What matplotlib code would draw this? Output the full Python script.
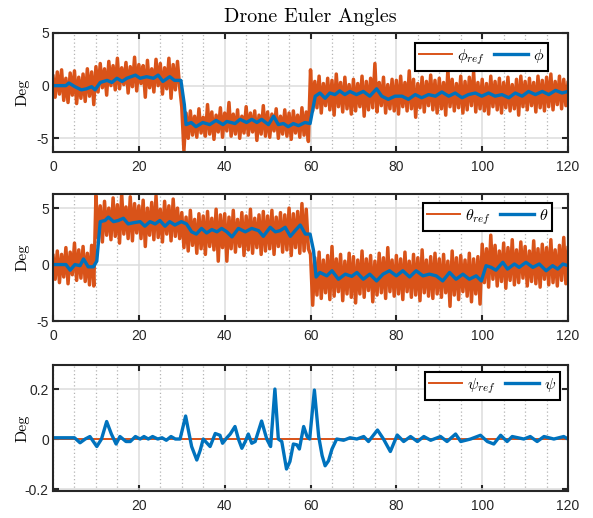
import matplotlib.pyplot as plt
import numpy as np
from matplotlib.ticker import MultipleLocator, FuncFormatter

plt.rcParams['mathtext.fontset'] = 'cm'
plt.rcParams['axes.unicode_minus'] = False
plt.rcParams['font.family'] = 'Liberation Sans'

# reference (noisy) signals, sampled every 0.5 s from 0 to 120 s
t_ref = np.linspace(0, 120, 241)

phi_ref = [0.9, -1.1, 1.3, -0.8, 1.5, -1.4, 0.7, -1.6, 1.2, -0.9,
           1.4, -1.7, 0.8, -1.2, 1.1, -1.5, 1.6, -1.0, 1.3, -1.8,
           1.8, -0.6, 2.1, -0.2, 1.6, -0.9, 2.3, 0.0, 1.9, -0.4,
           2.6, -0.3, 1.7, 0.1, 2.2, -0.7, 1.8, -0.1, 2.7, -0.5,
           2.0, 0.2, 1.9, -1.1, 2.4, -0.2, 1.6, -0.6, 2.5, 0.0,
           2.1, -0.8, 1.7, -0.3, 2.6, -1.2, 2.0, -0.4, 2.3, -0.1,
           -2.0, -6.2, -2.6, -5.0, -2.4, -4.7, -2.9, -4.9, -2.2, -4.5,
           -3.0, -4.8, -1.8, -4.6, -2.5, -5.1, -2.8, -4.4, -2.1, -4.9,
           -2.6, -4.3, -1.6, -4.8, -2.7, -4.6, -2.3, -5.0, -2.9, -4.5,
           -2.0, -4.7, -2.6, -4.4, -2.4, -5.2, -2.8, -4.6, -1.9, -4.8,
           -2.5, -4.9, -2.7, -4.3, -2.2, -5.0, -2.9, -4.6, -2.3, -4.8,
           -2.6, -5.1, -2.4, -4.5, -2.8, -4.9, -2.1, -4.7, -2.5, -5.3,
           1.5, -2.4, 0.4, -2.1, 0.9, -2.6, 0.2, -1.9, 0.7, -2.3,
           0.5, -2.8, 1.1, -2.0, 0.3, -2.5, 0.8, -2.2, 0.1, -2.7,
           0.6, -2.4, 0.2, -2.0, 0.9, -2.9, 0.4, -2.3, 0.7, -2.1,
           2.1, -2.5, 0.3, -1.9, 0.8, -2.6, 0.1, -2.2, 0.6, -2.4,
           0.5, -2.7, 0.9, -2.0, 0.3, -2.4, 1.4, -2.2, 0.6, -3.0,
           0.2, -2.1, 0.8, -2.5, 0.4, -1.9, 1.0, -2.3, 0.5, -2.6,
           0.7, -2.2, 0.3, -2.8, 1.5, -2.0, 0.6, -2.4, 0.2, -2.1,
           0.9, -2.6, 0.4, -2.3, 0.8, -1.9, 1.3, -2.5, 0.3, -2.2,
           0.6, -2.4, 0.2, -2.7, 0.9, -2.0, 0.4, -2.3, 0.7, -2.6,
           0.3, -2.1, 0.8, -2.4, 0.1, -2.2, 0.6, -2.8, 0.9, -2.0,
           0.4, -2.3, 0.7, -1.9, 0.3, -2.5, 0.9, -2.1, 0.5, -2.4,
           0.8, -2.0, 1.1, -2.3, 0.4, -1.8, 0.9, -2.2, 0.6, -1.9,
           0.3]

theta_ref = [0.8, -1.3, 1.2, -1.6, 0.9, -1.1, 1.5, -1.7, 1.1, -0.9,
             1.9, -1.4, 1.3, -1.2, 1.6, -1.5, 1.0, -1.8, 1.7, -1.9,
             6.1, 2.4, 5.2, 2.0, 5.6, 2.6, 5.0, 2.2, 5.9, 2.5,
             5.3, 1.9, 6.3, 2.7, 5.1, 2.3, 6.0, 2.1, 5.4, 2.8,
             5.2, 2.3, 5.7, 1.6, 5.0, 2.6, 5.5, 2.2, 6.1, 2.4,
             4.9, 2.0, 5.6, 2.7, 5.2, 2.1, 5.8, 2.5, 5.0, 2.3,
             4.6, 1.5, 4.2, 1.2, 4.8, 1.7, 4.0, 1.0, 4.5, 1.4,
             4.3, 0.9, 4.7, 1.6, 4.1, 1.3, 4.9, 0.3, 4.4, 1.5,
             4.5, 0.3, 4.2, 1.4, 4.8, 1.1, 4.0, 1.6, 4.6, 0.8,
             4.3, 1.3, 4.9, 1.0, 4.1, 1.5, 4.4, 0.9, 4.7, 1.2,
             4.3, 1.4, 4.8, 0.9, 4.2, 1.6, 4.6, 1.1, 4.4, 1.3,
             5.0, 0.8, 4.5, 1.5, 4.7, 1.0, 5.4, 1.2, 4.9, 1.4,
             0.9, -3.6, 0.6, -2.7, 1.1, -3.0, 0.4, -2.5, 0.8, -3.1,
             1.6, -2.8, 0.5, -2.4, 0.9, -3.2, 0.3, -2.6, 1.0, -2.9,
             0.7, -3.4, 0.4, -2.6, 1.2, -2.9, 0.5, -2.3, 0.8, -3.3,
             0.3, -2.7, 1.0, -2.5, 0.6, -3.0, 1.5, -2.4, 0.4, -2.8,
             0.8, -2.6, 0.5, -3.1, 1.1, -2.4, 0.3, -2.9, 0.9, -2.7,
             0.6, -3.2, 1.3, -2.5, 0.4, -2.8, 0.7, -3.0, 1.0, -2.6,
             0.5, -2.9, 0.9, -2.5, 0.3, -3.7, 1.2, -2.7, 0.6, -3.1,
             0.8, -2.4, 0.4, -2.8, 1.0, -3.3, 0.5, -2.6, 0.7, -3.5,
             1.8, -1.6, 1.4, -2.0, 2.6, -1.3, 1.7, -1.9, 1.2, -1.5,
             1.9, -2.1, 1.5, -1.4, 2.2, -1.8, 1.3, -1.6, 2.0, -1.2,
             1.6, -1.9, 1.2, -1.5, 2.1, -1.7, 1.4, -2.0, 1.8, -1.3,
             1.5, -1.8, 2.2, -1.6, 1.3, -1.9, 1.7, -1.4, 2.4, -1.7,
             1.5]

psi_ref_t = [0, 120]
psi_ref = [0.0, 0.0]

phi_t = [0, 3, 3.7, 5.1, 6.6, 7.8, 9, 9.8, 11, 12.6, 13.7, 14.9, 16.1, 17.2, 19.2,
         20.3, 21.8, 23.4, 24.5, 25.6, 27.2, 28.3, 29.8, 30.6, 31.0, 32.2, 33.3,
         34.9, 36.5, 38.0, 39.6, 40.5, 42.4, 43.6, 45.1, 46.3, 47.5, 48.6, 50.2,
         51.4, 52.5, 53.7, 54.8, 56.0, 57.2, 58.7, 59.9, 61.1, 62.2, 63.4, 64.5,
         65.7, 66.8, 68.0, 69.2, 70.7, 72.3, 73.8, 75.4, 76.6, 78.1, 79.7, 81.3,
         82.8, 84.4, 85.9, 87.5, 89.1, 90.6, 92.2, 93.7, 95.3, 96.8, 98.4, 99.9,
         101.5, 103.0, 104.6, 106.2, 107.7, 109.3, 110.8, 112.4, 114.0, 115.5,
         117.1, 118.6, 120.0]
phi = [0.0, 0.0, 0.25, -0.1, -0.4, -0.3, -0.1, -0.4, 0.3, 0.5, 0.3, 0.7, 0.4, 0.7, 1.0,
       0.7, 0.85, 0.7, 1.0, 0.4, 0.85, 0.5, 0.5, -1.8, -3.7, -3.5, -3.9,
       -3.5, -3.7, -3.3, -3.7, -3.4, -3.6, -3.2, -3.5, -3.2, -3.5, -3.2, -3.7,
       -2.9, -3.7, -3.6, -3.9, -3.6, -3.8, -3.5, -3.6, -1.0, -0.7, -1.2, -0.7,
       -0.85, -0.5, -0.85, -0.55, -0.85, -0.55, -1.0, -0.3, -1.0, -1.3, -1.0, -1.0,
       -1.3, -0.85, -1.15, -0.85, -1.0, -0.6, -1.0, -0.7, -1.15, -0.85, -0.7, -1.0,
       -0.7, -1.0, -0.85, -1.15, -0.7, -1.0, -0.55, -0.85, -0.55, -0.85,
       -0.45, -0.7, -0.55]

theta_t = [0, 3, 4.0, 5.1, 6.3, 7.1, 8.2, 9.4, 10.2, 11.0, 12.1, 12.9, 14.1, 15.2,
           16.4, 17.5, 18.7, 20.3, 21.4, 22.6, 23.8, 24.9, 26.1, 27.2, 28.4, 29.9,
           31.1, 32.3, 33.4, 34.6, 35.8, 37.0, 38.2, 39.3, 40.5, 41.7, 43.2, 44.8,
           46.3, 47.9, 49.0, 50.6, 51.8, 52.9, 54.1, 55.3, 56.4, 57.6, 58.8, 59.9,
           60.7, 61.3, 62.2, 63.8, 65.0, 66.5, 68.1, 69.6, 70.8, 72.3, 73.8, 75.4,
           76.9, 78.4, 80.0, 81.5, 83.1, 84.6, 86.2, 87.7, 89.3, 90.8, 92.4, 93.9,
           95.5, 97.0, 98.6, 99.8, 100.9, 102.1, 103.2, 104.8, 105.9, 107.5, 108.6,
           110.2, 111.8, 113.3, 114.9, 116.4, 117.6, 118.8, 120.0]
theta = [0.0, 0.0, -0.5, 0.0, -0.1, 0.5, -0.2, -0.2, 0.3, 3.8, 3.9, 4.2, 3.8, 3.9,
         4.1, 3.6, 3.7, 3.8, 3.4, 3.8, 3.6, 3.9, 3.4, 3.8, 3.5, 3.8,
         3.6, 2.9, 2.7, 3.2, 2.8, 3.1, 2.9, 3.2, 2.9, 2.45, 3.2, 2.9,
         3.2, 3.0, 2.5, 3.3, 2.9, 3.0, 3.3, 2.5, 3.0, 3.5, 2.7, 2.7,
         1.25, -1.1, -0.7, -1.0, -0.55, -1.3, -0.85, -1.05, -0.7, -1.3, -0.85, -1.45,
         -0.85, -0.55, -1.0, -0.55, -1.1, -0.55, -1.0, -0.85, -1.0, -1.45, -0.7, -1.3,
         -0.85, -1.3, -1.0, -1.45, -0.1, -0.25, -0.5, 0.2, -0.4, 0.05, -0.25,
         0.2, -0.25, 0.05, -0.55, -0.1, -0.4, 0.05, -0.1]

psi_t = [0, 5, 6.3, 7.5, 8.6, 10.2, 11.3, 12.5, 13.6, 14.7, 15.6, 17.0, 18.0, 19.2,
         20.3, 21.2, 22.2, 23.2, 24.4, 25.4, 26.4, 27.5, 28.5, 29.6, 30.9, 31.6,
         32.3, 33.5, 34.3, 35.0, 36.6, 37.8, 38.9, 39.5, 40.5, 41.3, 42.4, 43.2,
         44.0, 44.8, 45.5, 46.3, 47.1, 48.6, 49.8, 50.7, 51.7, 52.5, 53.3, 54.4,
         55.2, 56.0, 56.8, 57.4, 58.4, 59.2, 59.8, 60.9, 61.9, 62.7, 63.4, 64.2,
         65.0, 66.1, 67.7, 69.2, 70.8, 72.4, 73.5, 75.6, 77.0, 78.6, 80.2, 81.7,
         83.3, 84.9, 86.4, 88.0, 90.3, 91.8, 93.8, 95.0, 97.3, 99.6, 101.2, 102.7,
         104.3, 105.8, 107.0, 109.7, 111.2, 112.8, 114.4, 116.7, 119.0, 120.0]
psi = [0.005, 0.005, -0.015, 0.0, 0.01, -0.03, 0.0, 0.07, 0.02, -0.02, 0.01, -0.01, -0.01, 0.01,
       0.0, 0.01, 0.0, 0.01, 0.0, 0.005, -0.005, 0.01, 0.0, 0.0, 0.092, 0.03,
       -0.03, -0.084, -0.045, 0.0, -0.03, 0.022, 0.015, -0.017, 0.005, 0.02, 0.05, 0.0,
       -0.037, -0.01, 0.02, -0.017, -0.01, 0.072, 0.0, -0.03, 0.2, 0.0, -0.01, -0.12,
       -0.09, -0.02, -0.023, -0.04, 0.05, 0.01, 0.0, 0.196, 0.01, -0.066, -0.107, -0.087,
       -0.04, 0.0, -0.005, 0.005, 0.0, 0.01, -0.01, 0.036, 0.0, -0.05, 0.016, -0.01,
       0.01, -0.01, 0.01, -0.005, 0.01, -0.01, 0.02, -0.01, 0.0, 0.015, -0.01, -0.02,
       0.015, -0.01, 0.01, 0.0, 0.01, -0.01, 0.01, 0.0, 0.01, 0.0]

orange = '#D95319'
blue = '#0072BD'
dark = '#262626'

fig = plt.figure(figsize=(5.93, 5.18), dpi=100)
ax1 = fig.add_axes([0.0894, 0.7066, 0.8685, 0.2297])
ax2 = fig.add_axes([0.0894, 0.3803, 0.8685, 0.2452])
ax3 = fig.add_axes([0.0894, 0.0521, 0.8685, 0.2432])

# thick orange so the fast zigzag reads as a solid band
ax1.plot(t_ref, phi_ref, color=orange, lw=2.5, label=r'$\phi_{ref}$')
ax1.plot(phi_t, phi, color=blue, lw=2.4, solid_joinstyle='round', label=r'$\phi$')
ax1.set_ylim(-6.3, 5)
ax1.set_yticks([-5, 0, 5])
ax1.set_xticks(range(0, 121, 20))

ax2.plot(t_ref, theta_ref, color=orange, lw=2.5, label=r'$\theta_{ref}$')
ax2.plot(theta_t, theta, color=blue, lw=2.4, solid_joinstyle='round', label=r'$\theta$')
ax2.set_ylim(-5, 6.25)
ax2.set_yticks([-5, 0, 5])
ax2.set_xticks(range(0, 121, 20))

ax3.plot(psi_ref_t, psi_ref, color=orange, lw=1.4, label=r'$\psi_{ref}$')
ax3.plot(psi_t, psi, color=blue, lw=2.4, solid_joinstyle='round', label=r'$\psi$')
ax3.set_ylim(-0.208, 0.296)
ax3.set_yticks([-0.2, 0, 0.2])
ax3.set_xticks(range(20, 121, 20))
ax3.yaxis.set_major_formatter(FuncFormatter(lambda v, p: '{:g}'.format(v)))

# legend boxes (right edge, top edge) in axes fractions
anchors = [(0.961, 0.916), (0.969, 0.929), (0.984, 0.944)]

for ax, anc in zip([ax1, ax2, ax3], anchors):
    ax.set_xlim(0, 120)
    ax.xaxis.set_minor_locator(MultipleLocator(5))
    ax.set_axisbelow(True)
    ax.grid(True, which='major', color='#dcdcdc', lw=1.1)
    ax.grid(True, which='minor', axis='x', color='#b4b4b4', lw=0.9, ls=(0, (1, 2)))
    ax.tick_params(which='major', direction='in', top=True, right=True, length=4,
                   width=1.5, colors=dark, labelsize=10)
    ax.tick_params(axis='x', pad=6)
    ax.tick_params(axis='y', pad=3)
    ax.tick_params(which='minor', length=0)
    for s in ax.spines.values():
        s.set_linewidth(1.5)
        s.set_color(dark)
    ax.set_ylabel('Deg', fontfamily='cmr10', fontsize=11.5, color='black')
    ax.yaxis.set_label_coords(-0.045, 0.5)
    leg = ax.legend(loc='upper right', bbox_to_anchor=anc, borderaxespad=0, ncol=2,
                    fontsize=11.5, fancybox=False, framealpha=1, edgecolor='black',
                    handlelength=2.1, handletextpad=0.3, columnspacing=0.6,
                    borderpad=0.25)
    leg.get_frame().set_linewidth(1.5)
    leg.get_lines()[0].set_linewidth(1.4)

fig.text(0.523, 0.9575, 'Drone Euler Angles', fontfamily='cmr10', fontsize=14.5,
         ha='center', va='baseline')

plt.savefig('out.png', dpi=100)
